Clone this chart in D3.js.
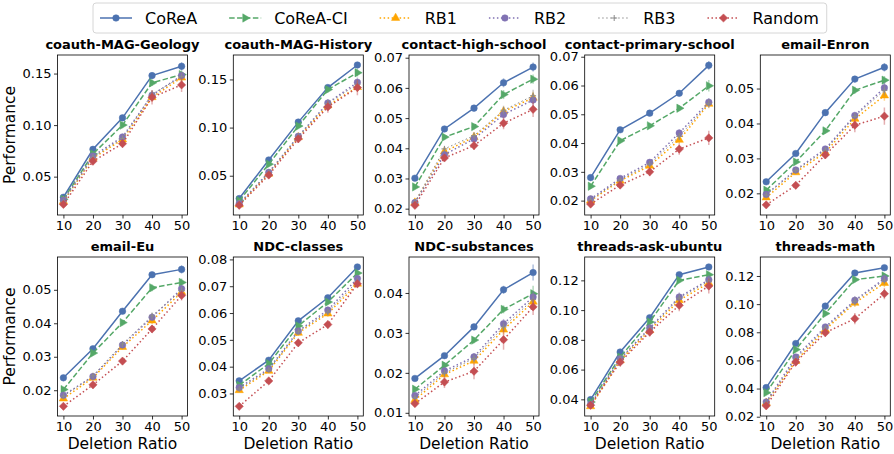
<!DOCTYPE html>
<html><head><meta charset="utf-8">
<script src="https://cdn.jsdelivr.net/npm/d3@7"></script>
<style>body{margin:0;background:#fff;} text{font-family:"DejaVu Sans",sans-serif;fill:#000;}</style>
</head><body><svg id="chart" width="894" height="454"></svg>
<script>
// ---------------- data ----------------
const ratios = [10, 20, 30, 40, 50];
const seriesNames = ["CoReA", "CoReA-CI", "RB1", "RB2", "RB3", "Random"];
const datasetNames = ["coauth-MAG-Geology", "coauth-MAG-History", "contact-high-school", "contact-primary-school", "email-Enron",
                      "email-Eu", "NDC-classes", "NDC-substances", "threads-ask-ubuntu", "threads-math"];

// values: rows = series (CoReA, CoReA-CI, RB1, RB2, RB3, Random), cols = deletion ratio
const geologyVals = [[0.030,0.0765,0.107,0.148,0.157],[0.028,0.072,0.100,0.141,0.149],[0.026,0.068,0.086,0.127,0.146],[0.027,0.070,0.0885,0.129,0.148],[0.026,0.069,0.087,0.130,0.147],[0.023,0.065,0.082,0.127,0.139]];
const historyVals = [[0.0263,0.0664,0.1057,0.1416,0.165],[0.024,0.062,0.1016,0.1395,0.157],[0.020,0.052,0.090,0.123,0.142],[0.021,0.0535,0.091,0.1256,0.147],[0.021,0.053,0.091,0.125,0.145],[0.0193,0.0507,0.0883,0.1214,0.1416]];
const highSchoolVals = [[0.0301,0.0464,0.0533,0.0617,0.0669],[0.0272,0.0437,0.0472,0.0578,0.0629],[0.022,0.0389,0.0437,0.0522,0.0567],[0.022,0.0379,0.0431,0.0512,0.056],[0.0222,0.0398,0.0442,0.0526,0.0574],[0.0211,0.0368,0.0409,0.0483,0.0529]];
const primarySchoolVals = [[0.028,0.0446,0.0504,0.0573,0.067],[0.025,0.0408,0.046,0.0521,0.0599],[0.020,0.0269,0.0321,0.0411,0.0536],[0.0206,0.0277,0.0333,0.0435,0.0542],[0.0202,0.0272,0.0327,0.0423,0.0538],[0.0188,0.0254,0.030,0.0379,0.0418]];
const enronVals = [[0.0233,0.0314,0.0431,0.0527,0.0561],[0.0209,0.029,0.0379,0.0495,0.0524],[0.0188,0.026,0.0317,0.0413,0.048],[0.0197,0.0267,0.0327,0.0423,0.0502],[0.0195,0.0265,0.0323,0.042,0.0495],[0.0167,0.0223,0.031,0.0395,0.0421]];
const euVals = [[0.0237,0.0324,0.0436,0.0545,0.0561],[0.0202,0.0311,0.0402,0.0506,0.0522],[0.0175,0.0237,0.0329,0.0408,0.0493],[0.0185,0.0241,0.0335,0.0418,0.0503],[0.0182,0.0243,0.0338,0.0422,0.0498],[0.0152,0.0216,0.0287,0.0383,0.0483]];
const ndcClassesVals = [[0.0347,0.0424,0.0571,0.0657,0.0772],[0.0331,0.0411,0.0552,0.0641,0.0749],[0.0312,0.0384,0.0526,0.0598,0.0709],[0.0322,0.0392,0.0533,0.0611,0.0729],[0.0317,0.0388,0.053,0.0604,0.0718],[0.0252,0.0347,0.0489,0.0557,0.0709]];
const ndcSubstancesVals = [[0.0186,0.0243,0.0315,0.0408,0.0451],[0.0159,0.0219,0.0282,0.0359,0.0398],[0.0132,0.0196,0.023,0.0308,0.0378],[0.0143,0.0205,0.024,0.0323,0.039],[0.0138,0.020,0.0236,0.0315,0.0384],[0.0123,0.0177,0.0204,0.0283,0.0365]];
const askUbuntuVals = [[0.0398,0.0718,0.0949,0.1238,0.129],[0.0382,0.0684,0.092,0.120,0.1238],[0.0353,0.0662,0.0864,0.1066,0.1182],[0.0366,0.0673,0.088,0.1088,0.1204],[0.036,0.067,0.0875,0.108,0.1195],[0.036,0.065,0.0852,0.1032,0.1162]];
const mathVals = [[0.0407,0.072,0.0986,0.1221,0.1259],[0.0371,0.0677,0.0933,0.1174,0.120],[0.0298,0.0595,0.0819,0.1009,0.115],[0.0305,0.0624,0.0838,0.1027,0.1181],[0.030,0.061,0.083,0.102,0.117],[0.0277,0.0588,0.0797,0.0897,0.1074]];

// error half-widths (same layout)
const geologyErr = [[0.002,0.002,0.002,0.003,0.004],[0.002,0.002,0.003,0.003,0.004],[0.002,0.003,0.003,0.004,0.005],[0.002,0.003,0.003,0.004,0.004],[0.002,0.003,0.003,0.004,0.004],[0.003,0.004,0.004,0.007,0.007]];
const historyErr = [[0.002,0.002,0.002,0.002,0.003],[0.002,0.002,0.002,0.003,0.004],[0.002,0.003,0.003,0.004,0.005],[0.002,0.003,0.003,0.004,0.005],[0.002,0.003,0.003,0.004,0.005],[0.002,0.003,0.004,0.006,0.008]];
const highSchoolErr = [[0.0005,0.0006,0.001,0.0015,0.0015],[0.0005,0.0008,0.001,0.0015,0.0015],[0.0006,0.0008,0.001,0.0015,0.002],[0.0006,0.0008,0.001,0.0015,0.002],[0.0006,0.0008,0.001,0.0015,0.002],[0.0007,0.001,0.0015,0.002,0.0025]];
const primarySchoolErr = [[0.0005,0.0005,0.0008,0.001,0.0015],[0.0004,0.0006,0.0008,0.001,0.002],[0.0006,0.0008,0.001,0.0012,0.0015],[0.0006,0.0008,0.001,0.0012,0.0015],[0.0006,0.0008,0.001,0.0012,0.0015],[0.0008,0.0012,0.0015,0.002,0.0025]];
const enronErr = [[0.0004,0.0005,0.0007,0.0008,0.0012],[0.0004,0.0006,0.0008,0.001,0.0012],[0.0005,0.0007,0.0008,0.001,0.0015],[0.0005,0.0007,0.0008,0.001,0.0015],[0.0005,0.0007,0.0008,0.001,0.0015],[0.0006,0.001,0.0012,0.002,0.0025]];
const euErr = [[0.0004,0.0005,0.0007,0.0008,0.0012],[0.0004,0.0006,0.0008,0.001,0.0012],[0.0005,0.0007,0.0008,0.001,0.0012],[0.0005,0.0007,0.0008,0.001,0.0012],[0.0005,0.0007,0.0008,0.001,0.0012],[0.0006,0.0008,0.001,0.0012,0.0015]];
const ndcClassesErr = [[0.0005,0.0006,0.0008,0.0008,0.001],[0.0005,0.0006,0.0008,0.0008,0.001],[0.0006,0.0008,0.0012,0.0012,0.0012],[0.0006,0.0008,0.0012,0.0012,0.0012],[0.0006,0.0008,0.0012,0.0012,0.0012],[0.0006,0.001,0.0015,0.0015,0.0015]];
const ndcSubstancesErr = [[0.0004,0.0005,0.0007,0.001,0.002],[0.0004,0.0007,0.0008,0.001,0.002],[0.0006,0.0008,0.001,0.0012,0.0015],[0.0006,0.0008,0.001,0.0012,0.0015],[0.0006,0.0008,0.001,0.0012,0.0015],[0.0008,0.0015,0.002,0.0025,0.002]];
const askUbuntuErr = [[0.001,0.0015,0.0015,0.0015,0.002],[0.001,0.0015,0.0015,0.0015,0.002],[0.0015,0.002,0.002,0.003,0.003],[0.0015,0.002,0.002,0.003,0.003],[0.0015,0.002,0.002,0.003,0.003],[0.002,0.003,0.003,0.004,0.005]];
const mathErr = [[0.001,0.0015,0.0015,0.002,0.002],[0.001,0.0015,0.0015,0.002,0.002],[0.0015,0.002,0.002,0.003,0.003],[0.0015,0.002,0.002,0.003,0.003],[0.0015,0.002,0.002,0.003,0.003],[0.0015,0.003,0.003,0.004,0.004]];

const yDomains = [[0.0128,0.168],[0.0092,0.1754],[0.0179,0.0709],[0.015,0.0706],[0.0138,0.0596],
                  [0.0123,0.0598],[0.0216,0.0809],[0.0092,0.049],[0.0288,0.1357],[0.0205,0.1335]];
const yTickValues = [[0.05,0.10,0.15],[0.05,0.10,0.15],[0.02,0.03,0.04,0.05,0.06,0.07],[0.02,0.03,0.04,0.05,0.06,0.07],[0.02,0.03,0.04,0.05],
                     [0.02,0.03,0.04,0.05],[0.03,0.04,0.05,0.06,0.07,0.08],[0.01,0.02,0.03,0.04],[0.04,0.06,0.08,0.10,0.12],[0.02,0.04,0.06,0.08,0.10,0.12]];

const allVals = [geologyVals, historyVals, highSchoolVals, primarySchoolVals, enronVals, euVals, ndcClassesVals, ndcSubstancesVals, askUbuntuVals, mathVals];
const allErr = [geologyErr, historyErr, highSchoolErr, primarySchoolErr, enronErr, euErr, ndcClassesErr, ndcSubstancesErr, askUbuntuErr, mathErr];

// ---------------- styles ----------------
const colors = ["#4c72b0", "#55a868", "#ffa500", "#8172b3", "#8c8c8c", "#c44e52"];
const dashes = [null, "5.5,2.4", "1.5,2.5", "1.5,2.5", "1.5,2.5", "1.5,2.5"];
const lineWidths = [1.5, 1.5, 1.5, 1.5, 1.0, 1.5];
const markers = ["circle", "tri-right", "tri-up", "circle", "plus", "diamond"];

const svg = d3.select("#chart");

const colLefts = [57.5, 233.3, 409, 584.7, 760.3];
const rowTops = [55, 257];
const pw = 130;

function markerPath(type) {
  switch (type) {
    case "circle": return d3.symbol(d3.symbolCircle, 34)();
    case "tri-up": return d3.symbol(d3.symbolTriangle, 30)();
    case "tri-right": return d3.symbol(d3.symbolTriangle, 30)();
    case "diamond": return d3.symbol(d3.symbolSquare, 34)();
    case "plus": return "M-3,0H3M0,-3V3";
  }
}
function drawMarker(g, type, color, x, y) {
  let rot = 0;
  if (type === "tri-right") rot = 90;
  if (type === "diamond") rot = 45;
  const p = g.append("path").attr("d", markerPath(type))
    .attr("transform", `translate(${x},${y}) rotate(${rot})`);
  if (type === "plus") p.attr("fill", "none").attr("stroke", color).attr("stroke-width", 1);
  else p.attr("fill", color).attr("stroke", color).attr("stroke-width", 0.5);
}

const fmt = d3.format(".2f");

datasetNames.forEach((name, i) => {
  const col = i % 5, row = Math.floor(i / 5);
  const x0 = colLefts[col], y0 = rowTops[row];
  const h = row === 0 ? 160 : 159;
  const g = svg.append("g").attr("transform", `translate(${x0},${y0})`);
  const x = d3.scaleLinear().domain([8, 52]).range([0, pw]);
  const y = d3.scaleLinear().domain(yDomains[i]).range([h, 0]);

  const clip = "clip" + i;
  g.append("clipPath").attr("id", clip).append("rect").attr("width", pw).attr("height", h);
  const plot = g.append("g").attr("clip-path", `url(#${clip})`);

  const vals = allVals[i], errs = allErr[i];
  seriesNames.forEach((s, si) => {
    const pts = ratios.map((r, k) => ({x: r, y: vals[si][k], e: errs[si][k]}));
    plot.selectAll(null).data(pts).enter().append("line")
      .attr("x1", d => x(d.x)).attr("x2", d => x(d.x))
      .attr("y1", d => y(d.y - d.e)).attr("y2", d => y(d.y + d.e))
      .attr("stroke", colors[si]).attr("stroke-opacity", 0.45).attr("stroke-width", 1.5);
    const line = d3.line().x(d => x(d.x)).y(d => y(d.y));
    plot.append("path").datum(pts).attr("d", line).attr("fill", "none")
      .attr("stroke", colors[si]).attr("stroke-width", lineWidths[si])
      .attr("stroke-dasharray", dashes[si]);
    pts.forEach(d => drawMarker(plot, markers[si], colors[si], x(d.x), y(d.y)));
  });

  const xa = g.append("g").attr("transform", `translate(0,${h})`)
    .call(d3.axisBottom(x).tickValues(ratios).tickSize(3.5).tickPadding(2.5).tickFormat(d3.format("d")));
  const ya = g.append("g")
    .call(d3.axisLeft(y).tickValues(yTickValues[i]).tickSize(3.5).tickPadding(2.5).tickFormat(fmt));
  [xa, ya].forEach(a => {
    a.select(".domain").remove();
    a.selectAll("line").attr("stroke", "#000").attr("stroke-width", 0.8);
    a.selectAll("text").attr("font-size", 13).attr("font-family", "DejaVu Sans").attr("fill", "#000");
  });
  g.append("rect").attr("width", pw).attr("height", h).attr("fill", "none")
    .attr("stroke", "#000").attr("stroke-width", 0.8);

  g.append("text").attr("x", pw / 2).attr("y", -6.5).attr("text-anchor", "middle")
    .attr("font-size", 13).attr("font-weight", "bold").text(name);

  if (col === 0) {
    g.append("text").attr("transform", `translate(${-43},${h / 2}) rotate(-90)`)
      .attr("text-anchor", "middle").attr("font-size", 15.5).text("Performance");
  }
  if (row === 1) {
    g.append("text").attr("x", pw / 2).attr("y", h + 33).attr("text-anchor", "middle")
      .attr("font-size", 15.5).text("Deletion Ratio");
  }
});

// ---------------- legend ----------------
const leg = svg.append("g");
const legBox = leg.append("rect").attr("x", 93).attr("y", 3).attr("height", 30).attr("rx", 3)
  .attr("fill", "#fff").attr("stroke", "#d6d6d6").attr("stroke-width", 1);
let lx = 100;
const ly = 18;
seriesNames.forEach((s, si) => {
  leg.append("line").attr("x1", lx).attr("x2", lx + 32).attr("y1", ly).attr("y2", ly)
    .attr("stroke", colors[si]).attr("stroke-width", lineWidths[si]).attr("stroke-dasharray", dashes[si]);
  drawMarker(leg, markers[si], colors[si], lx + 16, ly);
  const t = leg.append("text").attr("x", lx + 45).attr("y", ly + 6).attr("font-size", 16).text(s);
  lx += 45 + t.node().getComputedTextLength() + 32;
});
legBox.attr("width", lx - 32 + 8 - 93);
</script>
</body></html>
